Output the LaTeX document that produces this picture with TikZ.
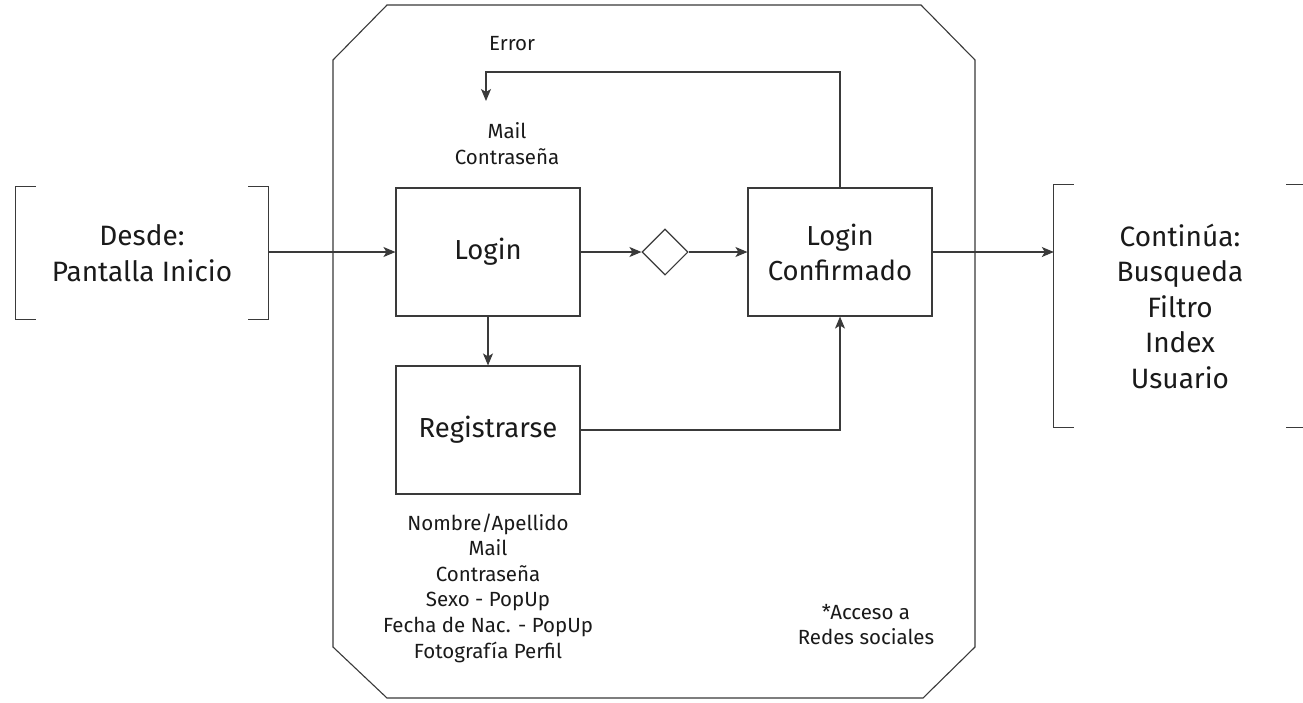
\documentclass[tikz,border=0pt]{standalone}
\usepackage{fontspec}
\setmainfont{Fira Sans}
\usetikzlibrary{arrows.meta,shapes.geometric}
\definecolor{ink}{HTML}{1A1A1A}
\definecolor{edge}{HTML}{3A3A3A}
\tikzset{
  line/.style={draw=edge,line width=1.1pt},
  arr/.style={line,-{Stealth[length=12pt,width=10pt,inset=3pt]}},
  box/.style={line,fill=white,minimum width=184pt,minimum height=128pt,inner sep=0pt,
    text=ink,font=\fontsize{27.5}{35}\selectfont,align=center},
  bracketnode/.style={minimum width=252pt,inner sep=0pt,text=ink,
    font=\fontsize{28}{35.5}\selectfont,align=center},
  note/.style={text=ink,font=\fontsize{20.5}{25.6}\selectfont,align=center,inner sep=0pt},
  gate/.style={line,diamond,shape aspect=1,minimum width=46pt,minimum height=46pt,inner sep=0pt,fill=white}
}
\begin{document}
\begin{tikzpicture}[x=1pt,y=-1pt]
\useasboundingbox (0,0) rectangle (1303,702);
\fill[white] (0,0) rectangle (1303,702);

% container with chamfered corners
\draw[line] (387,5) -- (921,5) -- (975,60) -- (975,647) -- (923,698)
  -- (387,698) -- (333,647) -- (333,60) -- cycle;

% entry and exit screens, drawn as open brackets
\node[bracketnode,minimum height=133pt] (desde) at (142,253) {Desde:\\Pantalla Inicio};
\draw[line] ([xshift=20pt]desde.north west) -- (desde.north west) -- (desde.south west) -- ([xshift=20pt]desde.south west);
\draw[line] ([xshift=-20pt]desde.north east) -- (desde.north east) -- (desde.south east) -- ([xshift=-20pt]desde.south east);

\node[bracketnode,minimum height=242pt] (sigue) at (1180,306) {Continúa:\\Busqueda\\Filtro\\Index\\Usuario};
\draw[line] ([xshift=20pt]sigue.north west) -- (sigue.north west) -- (sigue.south west) -- ([xshift=20pt]sigue.south west);
\draw[line] ([xshift=-20pt]sigue.north east) -- (sigue.north east) -- (sigue.south east) -- ([xshift=-20pt]sigue.south east);

% process boxes
\node[box] (login) at (488,252) {Login};
\node[box] (reg) at (488,430) {Registrarse};
\node[box] (conf) at (840,252) {Login\\Confirmado};
\node[gate] (gate) at (665,252) {};

% annotations
\node[note] (error) at (512,44) {Error};
\node[note] (campos) at (507,143.5) {Mail\\Contraseña};
\node[note] (datos) at (488,588) {Nombre/Apellido\\Mail\\Contraseña\\Sexo - PopUp\\Fecha de Nac. - PopUp\\Fotografía Perfil};
\node[note] (redes) at (866,624.5) {*Acceso a\\Redes sociales};
\coordinate (errend) at (486,101);

% connectors
\draw[arr] (desde.east |- login.west) -- (login.west);
\draw[arr] (login.east) -- (gate.west);
\draw[arr] (gate.east) -- (conf.west);
\draw[arr] (conf.east) -- (conf.east -| sigue.west);
\draw[arr] (login.south) -- (reg.north);
\draw[arr] (reg.east) -| (conf.south);
\draw[arr] (conf.north) |- (486,72) -- (errend);
\end{tikzpicture}
\end{document}
